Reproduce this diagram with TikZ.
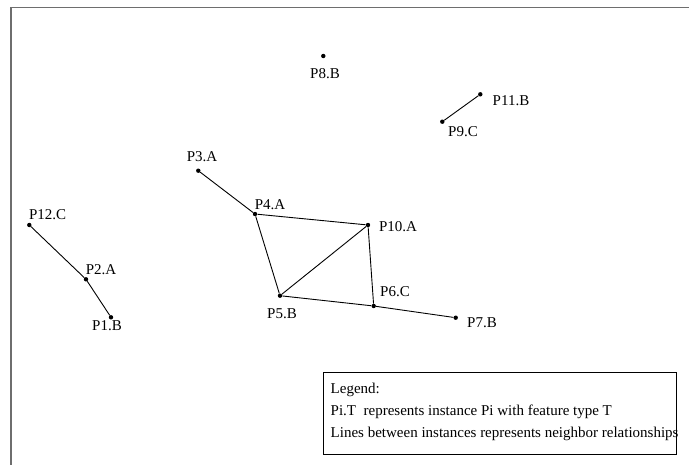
\documentclass[tikz,border=0pt]{standalone}
\usepackage{fontspec}
\setmainfont{Liberation Serif}
\begin{document}
\begin{tikzpicture}[x=1pt,y=-1pt,
  pt/.style={circle,fill=black,inner sep=0pt,minimum size=4.4pt},
  lbl/.style={font=\fontsize{15}{16}\selectfont,inner sep=0pt,anchor=center},
  edge/.style={line width=0.9pt},
  legtext/.style={font=\fontsize{15}{16}\selectfont,inner sep=0pt,anchor=west}]
\useasboundingbox (0,0) rectangle (689,464);
\fill[white] (0,0) rectangle (689,464);
\draw[line width=1.6pt,color={rgb,255:red,110;green,110;blue,110}] (10.8,470) -- (10.8,7.6) -- (695,7.6);
% points
\node[pt] (p12) at (29.3,225) {};
\node[pt] (p2) at (86,279.3) {};
\node[pt] (p1) at (111,317.3) {};
\node[pt] (p3) at (198.3,170.7) {};
\node[pt] (p4) at (255,214) {};
\node[pt] (p10) at (368,225) {};
\node[pt] (p5) at (280,295.7) {};
\node[pt] (p6) at (373.7,306) {};
\node[pt] (p7) at (455.7,317.7) {};
\node[pt] (p8) at (323.3,56) {};
\node[pt] (p11) at (480.3,94.3) {};
\node[pt] (p9) at (442.3,121.7) {};
% edges
\draw[edge] (p12) -- (p2) -- (p1);
\draw[edge] (p3) -- (p4);
\draw[edge] (p4) -- (p10);
\draw[edge] (p4) -- (p5);
\draw[edge] (p5) -- (p10);
\draw[edge] (p10) -- (p6);
\draw[edge] (p5) -- (p6);
\draw[edge] (p6) -- (p7);
\draw[edge] (p9) -- (p11);
% labels
\node[lbl] (l12) at (47.6,215) {P12.C};
\node[lbl] (l2) at (101,270) {P2.A};
\node[lbl] (l1) at (107,326) {P1.B};
\node[lbl] (l3) at (202,157) {P3.A};
\node[lbl] (l4) at (270,205) {P4.A};
\node[lbl] (l10) at (398,227) {P10.A};
\node[lbl] (l5) at (282,314) {P5.B};
\node[lbl] (l6) at (395,292) {P6.C};
\node[lbl] (l7) at (482,323) {P7.B};
\node[lbl] (l8) at (325,74) {P8.B};
\node[lbl] (l11) at (511,101) {P11.B};
\node[lbl] (l9) at (463,132) {P9.C};
% legend
\node[draw,line width=0.8pt,minimum width=352.7pt,minimum height=82.3pt,anchor=north west,inner sep=0pt] (leg) at (323.3,371.7) {};
\node[legtext] (lg1) at (330.5,390) {Legend:};
\node[legtext] (lg2) at (330.5,412) {Pi.T\ \ represents instance Pi with feature type T};
\node[legtext] (lg3) at (330.5,433.5) {Lines between instances represents neighbor relationships};
\end{tikzpicture}
\end{document}
